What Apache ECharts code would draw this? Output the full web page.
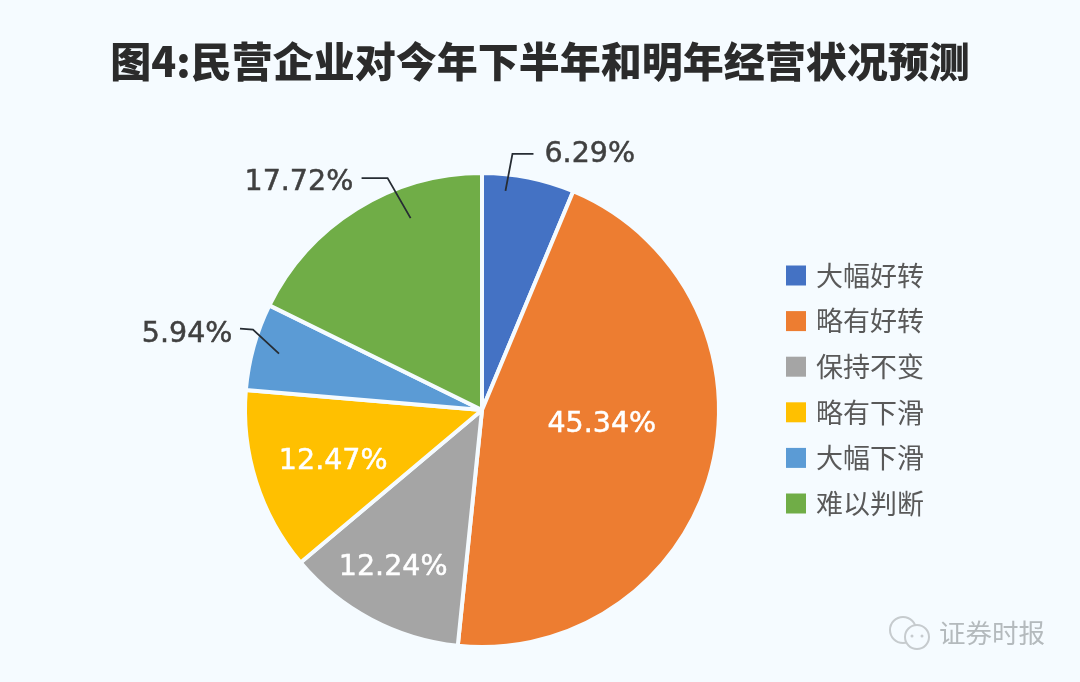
<!DOCTYPE html>
<html>
<head>
<meta charset="utf-8">
<style>html,body{margin:0;padding:0;background:#f5fbff}#chart{width:1080px;height:682px}</style>
<script src="https://cdn.jsdelivr.net/npm/echarts@6/dist/echarts.min.js"></script>
</head>
<body>
<div id="chart"></div>
<script>
const categories = ['大幅好转', '略有好转', '保持不变', '略有下滑', '大幅下滑', '难以判断'];
const values = [6.29, 45.34, 12.24, 12.47, 5.94, 17.72];
const colors = ['#4472c4', '#ed7d31', '#a5a5a5', '#ffc000', '#5b9bd5', '#70ad47'];

const chart = echarts.init(document.getElementById('chart'));
const font = '"Noto Sans CJK SC", sans-serif';
const labelFont = '"DejaVu Sans", sans-serif';
const center = [482, 410];
const radius = 237;
const bg = '#f5fbff';

// 标签相对默认位置的偏移
const labelOffsets = {
  '大幅好转': [-13, -3], '略有好转': [2, -15], '保持不变': [-32, 50],
  '略有下滑': [-33, 15], '大幅下滑': [23, -7], '难以判断': [32, -9]
};
// 引线: 起点在扇区内的位置(弧向比例, 半径比例), 折点相对起点, 终点相对折点
const leaders = {
  '大幅好转': { along: 0.27, frac: 0.93, bend: [7, -37], end: [21, 0] },
  '大幅下滑': { along: 0.5, frac: 0.889, bend: [-26, -24], end: [-13, -1] },
  '难以判断': { along: 0.68, frac: 0.864, bend: [-23, -40], end: [-26, 0] }
};

// 扇区内某点的坐标, 由数值算出角度
function slicePoint(index, along, frac) {
  const total = values.reduce((a, b) => a + b, 0);
  const before = values.slice(0, index).reduce((a, b) => a + b, 0);
  const angle = (before + values[index] * along) / total * Math.PI * 2;
  return [center[0] + radius * frac * Math.sin(angle), center[1] - radius * frac * Math.cos(angle)];
}

const leaderLines = categories.filter(name => leaders[name]).map(name => {
  const l = leaders[name];
  const start = slicePoint(categories.indexOf(name), l.along, l.frac);
  const bend = [start[0] + l.bend[0], start[1] + l.bend[1]];
  return {
    type: 'polyline',
    z: 10,
    shape: { points: [start, bend, [bend[0] + l.end[0], bend[1] + l.end[1]]] },
    style: { fill: 'none', stroke: '#262c33', lineWidth: 1.8 }
  };
});

const pieData = categories.map((name, i) => {
  const outside = !!leaders[name];
  const color = outside ? '#404040' : '#fff';
  return {
    name,
    value: values[i],
    label: { position: outside ? 'outside' : 'inside', color, textBorderColor: color, textBorderWidth: 0.5 },
    labelLine: { show: false }
  };
});

chart.setOption({
  backgroundColor: bg,
  color: colors,
  title: {
    text: '图4:民营企业对今年下半年和明年经营状况预测',
    left: 'center',
    top: 36,
    textStyle: { fontFamily: font, fontSize: 41, fontWeight: 900, color: '#2b2b2b' }
  },
  legend: {
    orient: 'vertical',
    left: 786,
    top: 262,
    padding: 0,
    itemWidth: 20,
    itemHeight: 20,
    itemGap: 18.6,
    icon: 'rect',
    itemStyle: { borderWidth: 0 },
    textStyle: { fontFamily: font, fontSize: 27, color: '#595959', padding: [0, 0, 0, 5] }
  },
  graphic: [
    ...leaderLines,
    { type: 'text', left: 939, top: 620, style: { text: '证券时报', fontFamily: font, fontSize: 26.5, fill: '#b4babd' } },
    { type: 'circle', shape: { cx: 903, cy: 630, r: 13 }, style: { fill: 'none', stroke: '#c6cbce', lineWidth: 2 } },
    { type: 'circle', shape: { cx: 917, cy: 637, r: 12 }, style: { fill: bg, stroke: '#c6cbce', lineWidth: 2 } },
    { type: 'circle', shape: { cx: 912, cy: 636, r: 1.5 }, style: { fill: '#c6cbce' } },
    { type: 'circle', shape: { cx: 922, cy: 636, r: 1.5 }, style: { fill: '#c6cbce' } }
  ],
  series: [{
    type: 'pie',
    center,
    radius: [0, radius],
    startAngle: 90,
    animation: false,
    itemStyle: { borderColor: bg, borderWidth: 4 },
    label: {
      formatter: p => p.value.toFixed(2) + '%',
      fontFamily: labelFont,
      fontSize: 28.5
    },
    labelLine: { length: 20, length2: 20 },
    labelLayout: params => {
      const off = labelOffsets[categories[params.dataIndex]];
      return { dx: off[0], dy: off[1] };
    },
    data: pieData
  }]
});
</script>
</body>
</html>
